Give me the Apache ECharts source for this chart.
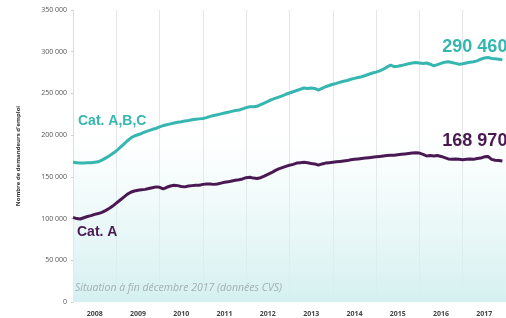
<!DOCTYPE html>
<html>
<head>
<meta charset="utf-8">
<script src="https://cdn.jsdelivr.net/npm/echarts@6/dist/echarts.min.js"></script>
<style>
  html, body { margin: 0; padding: 0; background: #fff; }
  #chart { width: 506px; height: 318px; }
</style>
</head>
<body>
<div id="chart"></div>
<script>
// Demandeurs d'emploi, données mensuelles janv. 2008 -> déc. 2017 (en milliers)
const years = ['2008', '2009', '2010', '2011', '2012', '2013', '2014', '2015', '2016', '2017']
const yTicks = [0, 50000, 100000, 150000, 200000, 250000, 300000, 350000]

const catABC = [
  167.5, 167, 166.5, 166.5, 167, 167, 167.5, 168, 170, 172.5, 175, 178,
  181, 185, 189, 193, 196.5, 199, 200.5, 202, 204, 205.5, 207, 208,
  210, 211.5, 212.5, 213.5, 214.5, 215.5, 216, 217, 217.5, 218.5, 219, 219.5,
  220, 221, 222.5, 223.5, 224.5, 225.5, 226.5, 227.5, 228.5, 229.5, 230, 231.5,
  233, 234, 234, 234.5, 236.5, 238.5, 240.5, 242.5, 244, 245.5, 247, 249,
  250.5, 252, 253.5, 255, 256.5, 256, 256.5, 256, 254, 256, 258, 259.5,
  261, 262, 263.5, 264.5, 265.5, 267, 268, 269, 270, 271.5, 273, 274.5,
  275.5, 277, 279, 281.5, 284, 282, 282.5, 283.5, 284.5, 285.5, 286.5, 287,
  286.5, 286, 286.5, 285, 283, 284.5, 286, 287.5, 288, 287, 286, 285,
  285.5, 286.5, 287.5, 288, 289, 291, 292.5, 293, 292, 291.5, 291, 290.46
]
const catA = [
  101.5, 100, 99.5, 101, 102.5, 103.5, 105, 106, 107.5, 109.5, 112, 115,
  118.5, 122, 125.5, 129, 131.5, 133, 134, 134.5, 135, 136, 137, 138,
  137.5, 135.5, 137.5, 139, 140, 139.5, 138.5, 138, 139, 139.5, 140, 140,
  141, 141.5, 141.5, 141, 141.5, 142.5, 143.5, 144, 145, 146, 146.5, 147.5,
  149, 149.5, 148.5, 148, 149, 151, 153, 155, 157.5, 159.5, 161, 162.5,
  164, 165, 166.5, 167, 167.5, 167, 166, 165.5, 164, 165.5, 166.5, 167,
  167.5, 168, 168.5, 169, 169.5, 170.5, 171, 171.5, 172, 172.5, 173, 173.5,
  174, 174.5, 175, 175.5, 176, 176, 176.5, 177, 177.5, 178, 178.5, 179,
  178.5, 177, 175, 175.5, 175, 175.5, 174.5, 173, 171.5, 171, 171.5, 171,
  170.5, 171, 171.5, 171, 172, 172.5, 174, 174.5, 171, 170, 169.5, 168.97
]

const TEAL = '#36b6b0'
const PURPLE = '#4a1953'

function fmt(v) {
  return Math.round(v).toString().replace(/\B(?=(\d{3})+(?!\d))/g, ' ')
}

const toPoints = arr => arr.map((v, i) => [i, Math.round(v * 1000)])

// valeur de fin de série, affichée au-dessus à gauche du dernier point
function lastPoint(arr, color, dist) {
  const i = arr.length - 1
  const v = Math.round(arr[i] * 1000)
  return {
    silent: true,
    symbol: 'circle',
    symbolSize: 1,
    itemStyle: { color: 'rgba(0,0,0,0)' },
    label: {
      show: true,
      position: 'top',
      align: 'right',
      distance: dist,
      offset: [5, 0],
      formatter: fmt(v),
      color: color,
      fontSize: 18,
      fontWeight: 'bold',
      fontFamily: 'Liberation Sans, Arial, sans-serif'
    },
    data: [{ coord: [i, v] }]
  }
}

let Mycharts = echarts.init(document.getElementById('chart'), null, { renderer: 'canvas' })
let option = {
  animation: false,
  grid: {
    left: 73,
    right: -4,
    top: 10,
    bottom: 16
  },
  xAxis: [
    {
      type: 'value',
      min: 0,
      max: years.length * 12,
      interval: 12,
      axisLine: { show: false },
      axisTick: { show: false },
      axisLabel: { show: false },
      splitLine: { show: true, lineStyle: { color: '#e6e6e6', width: 1 } }
    },
    {
      type: 'category',
      position: 'bottom',
      data: years,
      boundaryGap: true,
      axisLine: { show: false },
      axisTick: { show: false },
      splitLine: { show: false },
      axisLabel: {
        color: '#444',
        fontSize: 7,
        fontWeight: 'bold',
        fontFamily: 'Open Sans',
        margin: 8
      }
    }
  ],
  yAxis: {
    type: 'value',
    min: yTicks[0],
    max: yTicks[yTicks.length - 1],
    interval: yTicks[1] - yTicks[0],
    name: "Nombre de demandeurs d'emploi",
    nameLocation: 'middle',
    nameGap: 52,
    nameTextStyle: {
      color: '#333',
      fontSize: 6,
      fontWeight: 'bold',
      fontFamily: 'Open Sans'
    },
    axisLine: { show: true, lineStyle: { color: '#dcdcdc' } },
    axisTick: { show: true, length: 2, lineStyle: { color: '#cfcfcf' } },
    splitLine: { show: false },
    axisLabel: {
      color: '#555',
      fontSize: 7,
      fontFamily: 'Open Sans',
      margin: 6,
      formatter: v => fmt(v)
    }
  },
  graphic: [
    {
      type: 'text',
      left: 78,
      top: 114,
      z: 100,
      style: {
        text: 'Cat. A,B,C',
        fill: TEAL,
        font: 'bold 14px "Liberation Sans", Arial, sans-serif'
      }
    },
    {
      type: 'text',
      left: 77,
      top: 225,
      z: 100,
      style: {
        text: 'Cat. A',
        fill: PURPLE,
        font: 'bold 14px "Liberation Sans", Arial, sans-serif'
      }
    },
    {
      type: 'text',
      left: 75,
      top: 283,
      z: 100,
      style: {
        text: 'Situation à fin décembre 2017 (données CVS)',
        fill: '#a3b0b0',
        font: 'italic 10.5px "Open Sans", sans-serif'
      }
    }
  ],
  series: [
    {
      // fond dégradé du bas du graphique
      type: 'line',
      data: [],
      silent: true,
      markArea: {
        silent: true,
        itemStyle: {
          color: new echarts.graphic.LinearGradient(0, 0, 0, 1, [
            { offset: 0, color: 'rgba(222, 245, 245, 0)' },
            { offset: 1, color: '#d5f0f0' }
          ])
        },
        data: [[{ xAxis: 0, yAxis: 200000 }, { xAxis: years.length * 12, yAxis: 0 }]]
      }
    },
    {
      name: 'Cat. A,B,C',
      type: 'line',
      data: toPoints(catABC),
      showSymbol: false,
      symbol: 'none',
      lineStyle: { color: TEAL, width: 3 },
      markPoint: lastPoint(catABC, TEAL, 3),
      z: 3
    },
    {
      name: 'Cat. A',
      type: 'line',
      data: toPoints(catA),
      showSymbol: false,
      symbol: 'none',
      lineStyle: { color: PURPLE, width: 3 },
      markPoint: lastPoint(catA, PURPLE, 10),
      z: 3
    }
  ]
}
Mycharts.setOption(option)
</script>
</body>
</html>
